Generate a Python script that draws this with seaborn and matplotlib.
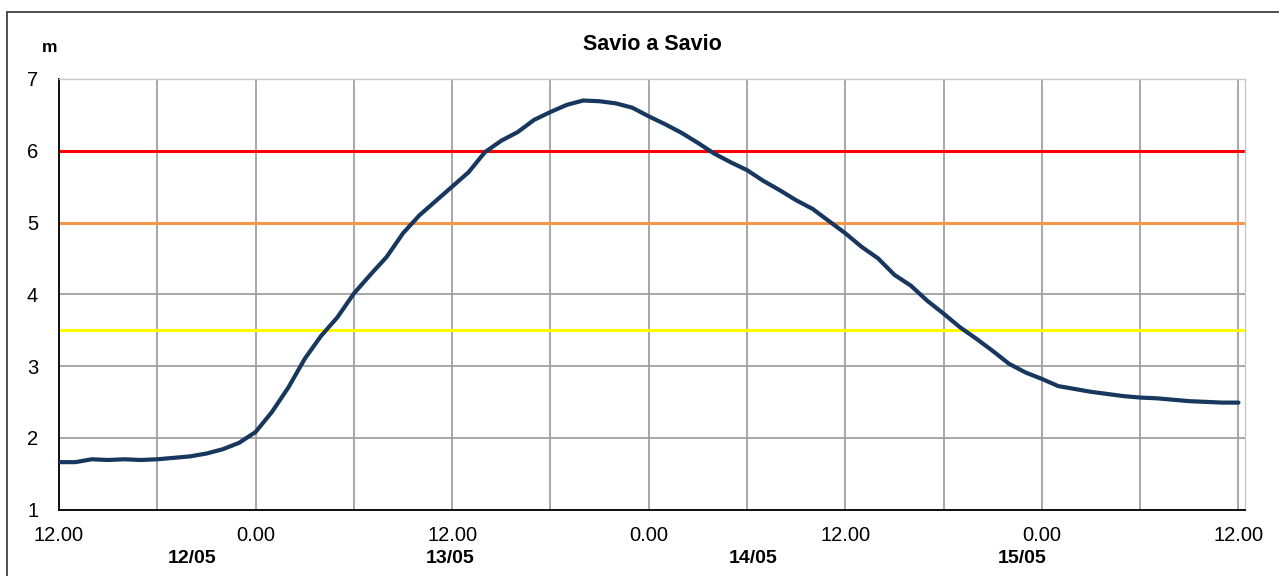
import matplotlib
matplotlib.use("Agg")
import matplotlib.pyplot as plt
import matplotlib.transforms as mtransforms
from matplotlib.patches import Rectangle
import pandas as pd
import seaborn as sns

# hours from 12.00 of 11/05, one reading per hour
hours = list(range(0, 73))
level = [1.66, 1.66, 1.70, 1.69, 1.70, 1.69, 1.70, 1.72, 1.74, 1.78,
         1.84, 1.93, 2.08, 2.36, 2.70, 3.10, 3.42, 3.68, 4.01, 4.27,
         4.52, 4.85, 5.10, 5.30, 5.50, 5.70, 5.98, 6.14, 6.26, 6.43,
         6.54, 6.64, 6.70, 6.69, 6.66, 6.60, 6.48, 6.37, 6.25, 6.11,
         5.96, 5.84, 5.73, 5.58, 5.45, 5.31, 5.19, 5.02, 4.85, 4.66,
         4.50, 4.27, 4.12, 3.91, 3.73, 3.54, 3.38, 3.21, 3.03, 2.91,
         2.82, 2.72, 2.68, 2.64, 2.61, 2.58, 2.56, 2.55, 2.53, 2.51,
         2.50, 2.49, 2.49]

thresholds = [6.0, 5.0, 3.5]
threshold_colors = ["#FF0000", "#F79646", "#FFFF00"]

tick_hours = [0, 12, 24, 36, 48, 60, 72]
tick_labels = ["12.00", "0.00", "12.00", "0.00", "12.00", "0.00", "12.00"]
day_hours = [8.1, 23.9, 42.4, 58.8]
day_labels = ["12/05", "13/05", "14/05", "15/05"]

df = pd.DataFrame({"ora": hours, "livello": level})

sns.set_style("white")
plt.rcParams["font.family"] = ["Liberation Sans", "DejaVu Sans"]
plt.rcParams["text.color"] = "black"
plt.rcParams["xtick.color"] = "black"
plt.rcParams["ytick.color"] = "black"

fig = plt.figure(figsize=(12.79, 5.76), dpi=100)
ax = fig.add_axes([59 / 1279, 1 - 509.5 / 576, (1245 - 59) / 1279, (509.5 - 79) / 576])

# grid
for h in range(0, 73, 6):
    ax.axvline(h, color="#a0a0a0", lw=1.3, zorder=1)
for v in range(1, 8):
    ax.axhline(v, color="#a0a0a0", lw=1.3, zorder=1)

for t, c in zip(thresholds, threshold_colors):
    ax.axhline(t, color=c, lw=2.2, zorder=2)

sns.lineplot(data=df, x="ora", y="livello", ax=ax, color="#17375E", lw=3.0, zorder=3)

ax.set_xlim(0, 72.4)
ax.set_ylim(1, 7)
ax.set_xticks(tick_hours)
ax.set_xticks(range(0, 73, 6), minor=True)
ax.set_xticklabels(tick_labels)
ax.set_yticks(range(1, 8))
ax.tick_params(axis="both", which="both", direction="inout", length=8, width=1.2,
               color="black", labelcolor="black", labelsize=14.5, pad=8)
ax.tick_params(axis="y", pad=11)
ax.set_xlabel("")
ax.set_ylabel("")

for s in ["left", "bottom"]:
    ax.spines[s].set_color("black")
    ax.spines[s].set_linewidth(1.3)
for s in ["top", "right"]:
    ax.spines[s].set_color("#c8c8c8")
    ax.spines[s].set_linewidth(1.0)

trans = mtransforms.blended_transform_factory(ax.transData, ax.transAxes)
for h, lab in zip(day_hours, day_labels):
    ax.text(h, -0.113, lab, transform=trans, ha="center", va="center",
            fontsize=14, fontweight="bold", color="black")

fig.text(652 / 1279, 1 - 45 / 576, "Savio a Savio", ha="center", va="center",
         fontsize=15.5, fontweight="bold", color="black")
fig.text(50 / 1279, 1 - 48 / 576, "m", ha="center", va="center",
         fontsize=12.5, fontweight="bold", color="black")

fig.patches.append(Rectangle((7 / 1279, -0.01), 1.1, 1 - 12 / 576 + 0.01,
                             transform=fig.transFigure, fill=False,
                             edgecolor="#404040", lw=1.3))

fig.savefig("out.png", dpi=100)
